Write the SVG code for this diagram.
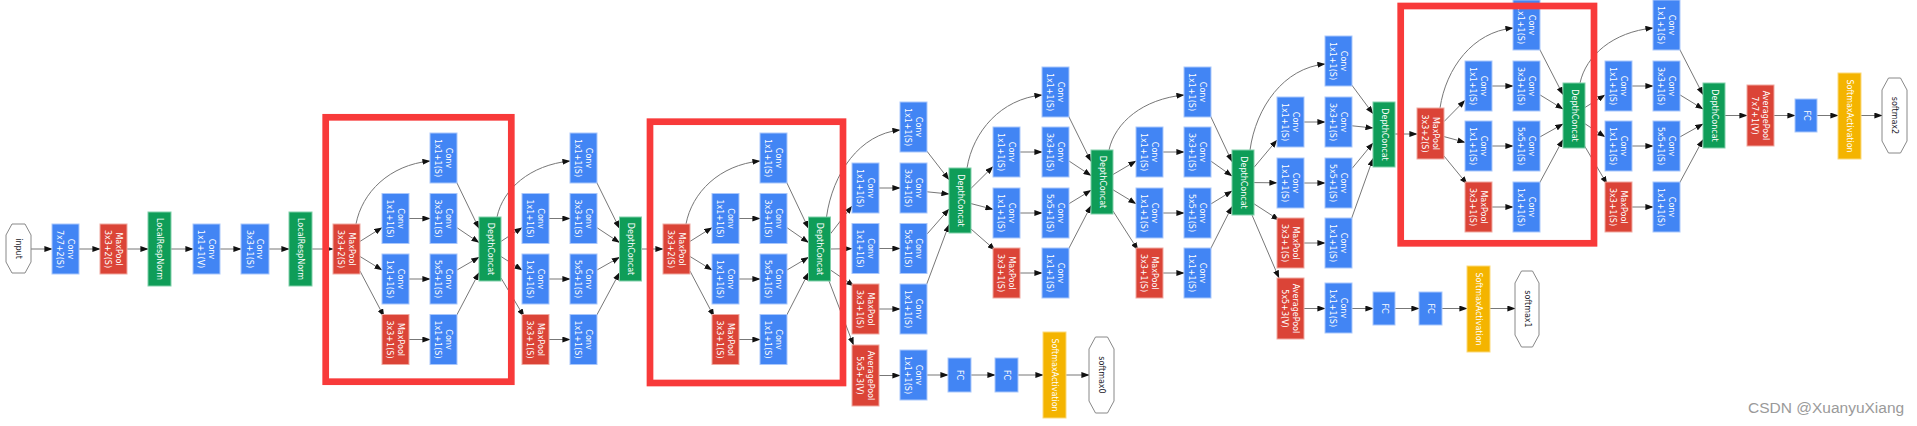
<svg xmlns="http://www.w3.org/2000/svg" width="1917" height="426" viewBox="0 0 1917 426">
<style>
rect{stroke-width:1}
.b{fill:#4285f4;stroke:#a9c7fb}
.r{fill:#db4437;stroke:#f0a9a1}
.g{fill:#0f9d58;stroke:#80cfa9}
.y{fill:#f4b400;stroke:#fbd97a}
.o{fill:#fff;stroke:#888;stroke-width:1}
.t{font-family:"DejaVu Sans",sans-serif;font-size:8px;fill:#fff;text-anchor:middle;dominant-baseline:central}
.d{fill:#1a1a2a}
.e path{fill:none;stroke:#777;stroke-width:1;marker-end:url(#ah)}
.hl{fill:none;stroke:#f83a3a;stroke-width:6.7}
.wm{font-family:"Liberation Sans",Arial,sans-serif;font-size:15.5px;fill:#9a9a9a}
</style>
<defs>
<marker id="ah" markerWidth="8" markerHeight="6" refX="7.6" refY="3" orient="auto" markerUnits="userSpaceOnUse"><path d="M0,0 L8,3 L0,6 z" fill="#111"/></marker>
</defs>
<rect width="1917" height="426" fill="#fff" stroke="none"/>
<g id="connectors" class="e">
<path d="M31,249 L52,249"/><path d="M79,249 L100,249"/><path d="M127,249 L148,249"/><path d="M171,249 L193,249"/><path d="M219,249 L241,249"/><path d="M269,249 L289,249"/><path d="M312,249 L333,249"/>
<path d="M360,241.4 L382,227.6"/><path d="M360,256.5 L382,270"/><path d="M360,271 L384,316.5"/><path d="M356,224 C362,192.5 389.3,165 430,161"/>
<path d="M409,218.5 L430,218.5"/><path d="M409,279 L430,279"/><path d="M409,339.5 L430,339.5"/>
<path d="M456,181 L479,228.5"/><path d="M457,227.7 L479,242.6"/><path d="M457,270 L479,257.3"/><path d="M456,316.5 L479,272.7"/>
<path d="M501,241.4 L522,227.6"/><path d="M501,256.5 L522,270"/><path d="M501,278 L524,316.5"/><path d="M497,217 C503,189 529.9,165 570,161"/>
<path d="M549,218.5 L570,218.5"/><path d="M549,279 L570,279"/><path d="M549,339.5 L570,339.5"/>
<path d="M596,181 L619.5,228.5"/><path d="M597,227.7 L619.5,242.6"/><path d="M597,270 L619.5,257.3"/><path d="M596,316.5 L619.5,272.7"/>
<path d="M641.5,249 L663,249"/>
<path d="M690,241.4 L712,227.6"/><path d="M690,256.5 L712,270"/><path d="M690,271 L714,316.5"/><path d="M686,224 C692,192.5 719.3,165 760,161"/>
<path d="M739,218.5 L760,218.5"/><path d="M739,279 L760,279"/><path d="M739,339.5 L760,339.5"/>
<path d="M786,181 L808.5,228.5"/><path d="M787,227.7 L808.5,242.6"/><path d="M787,270 L808.5,257.3"/><path d="M786,316.5 L808.5,272.7"/>
<path d="M830.5,233.8 L852,206"/><path d="M830.5,249 L852,248.7"/><path d="M830.5,270 L854,286"/><path d="M826.5,217 C832.5,173.5 859.6,134 900,130"/>
<path d="M879,188 L900,188"/><path d="M879,248.5 L900,248.5"/><path d="M879,309 L900,309"/>
<path d="M926,150 L949,179.7"/><path d="M927,191.8 L949,194"/><path d="M927,234.1 L949,209"/><path d="M926,286 L949,224.5"/>
<path d="M829,281 L853.5,345"/>
<path d="M879,375.5 L900,375.5"/><path d="M927,375 L948,375"/><path d="M971,375 L995,375"/><path d="M1018,375 L1043,375"/><path d="M1066,375 L1089,375"/>
<path d="M971,188.4 L993,166.6"/><path d="M971,203.6 L993,209.3"/><path d="M971,229 L995,250"/><path d="M967,168 C973,131.5 1000.8,99 1042,95"/>
<path d="M1020,152 L1042,152"/><path d="M1020,213 L1042,213"/><path d="M1020,273 L1042,273"/>
<path d="M1068,115 L1091,161.5"/><path d="M1069,161 L1091,175.6"/><path d="M1069,203.7 L1091,190.3"/><path d="M1068,250 L1091,205.7"/>
<path d="M1113,174.5 L1136,161"/><path d="M1113,189.8 L1136,203.7"/><path d="M1113,211 L1138,250"/><path d="M1109,150 C1115,122.5 1142.8,99 1184,95"/>
<path d="M1163,152 L1184,152"/><path d="M1163,213 L1184,213"/><path d="M1163,273 L1184,273"/>
<path d="M1210,115 L1232,161.7"/><path d="M1211,161.2 L1232,176"/><path d="M1211,203.9 L1232,191"/><path d="M1210,250 L1232,206.5"/>
<path d="M1252,215 L1279,278"/>
<path d="M1304,308.5 L1325,308.5"/><path d="M1352,308.5 L1373,308.5"/><path d="M1395,308.5 L1419,308.5"/><path d="M1442,308.5 L1467,308.5"/><path d="M1490,308.5 L1515,308.5"/>
<path d="M1254,167.4 L1277,140"/><path d="M1254,182.6 L1277,182.8"/><path d="M1254,203.8 L1279,220"/><path d="M1250,150 C1256,107 1283.8,68 1325,64"/>
<path d="M1304,122 L1325,122"/><path d="M1304,183 L1325,183"/><path d="M1304,243 L1325,243"/>
<path d="M1351,84 L1373,113.7"/><path d="M1352,125.8 L1373,128"/><path d="M1352,168.5 L1373,143"/><path d="M1351,220 L1373,158.5"/>
<path d="M1395,134 L1417,134"/>
<path d="M1444,121.6 L1465,100.3"/><path d="M1444,136.6 L1465,142.3"/><path d="M1444,156 L1467,184"/><path d="M1440,108 C1446,68 1472.9,32 1513,28"/>
<path d="M1492,86 L1513,86"/><path d="M1492,146 L1513,146"/><path d="M1492,207 L1513,207"/>
<path d="M1539,48 L1563,94.7"/><path d="M1540,94.9 L1563,109"/><path d="M1540,136.9 L1563,124"/><path d="M1539,184 L1563,139.5"/>
<path d="M1584,108.1 L1605,94.9"/><path d="M1584,123.1 L1605,136.9"/><path d="M1584,145 L1607,184"/><path d="M1580,83 C1586,55.5 1612.9,32 1653,28"/>
<path d="M1632,86 L1653,86"/><path d="M1632,146 L1653,146"/><path d="M1632,207 L1653,207"/>
<path d="M1679,48 L1703,94.7"/><path d="M1680,94.9 L1703,109"/><path d="M1680,136.9 L1703,124"/><path d="M1679,184 L1703,139.5"/>
<path d="M1725,115.5 L1747,115.5"/><path d="M1774,115.5 L1795,115.5"/><path d="M1817,115.5 L1838,115.5"/><path d="M1861,115.5 L1882,115.5"/>
</g>

<g id="input"><polygon class="o" points="12,224 25,224 31,235 31,262 25,273 12,273 6,262 6,235"/><text class="t d" transform="translate(18.5 248.5) rotate(90)">input</text></g>
<g id="conv1"><rect class="b" x="52" y="224" width="27" height="50"/><text class="t" transform="translate(65.5 249) rotate(90)"><tspan x="0" y="-5.3">Conv</tspan><tspan x="0" y="5.3">7x7+2(S)</tspan></text></g>
<g id="pool1"><rect class="r" x="100" y="224" width="27" height="50"/><text class="t" transform="translate(113.5 249) rotate(90)"><tspan x="0" y="-5.3">MaxPool</tspan><tspan x="0" y="5.3">3x3+2(S)</tspan></text></g>
<g id="lrn1"><rect class="g" x="148" y="212" width="23" height="74"/><text class="t" transform="translate(159.5 249) rotate(90)">LocalRespNorm</text></g>
<g id="conv2"><rect class="b" x="193" y="224" width="27" height="50"/><text class="t" transform="translate(206.5 249) rotate(90)"><tspan x="0" y="-5.3">Conv</tspan><tspan x="0" y="5.3">1x1+1(V)</tspan></text></g>
<g id="conv3"><rect class="b" x="241" y="224" width="28" height="50"/><text class="t" transform="translate(255 249) rotate(90)"><tspan x="0" y="-5.3">Conv</tspan><tspan x="0" y="5.3">3x3+1(S)</tspan></text></g>
<g id="lrn2"><rect class="g" x="289" y="212" width="23" height="74"/><text class="t" transform="translate(300.5 249) rotate(90)">LocalRespNorm</text></g>
<g id="pool2"><rect class="r" x="333" y="224" width="27" height="50"/><text class="t" transform="translate(346.5 249) rotate(90)"><tspan x="0" y="-5.3">MaxPool</tspan><tspan x="0" y="5.3">3x3+2(S)</tspan></text></g>

<g id="i3a_a1"><rect class="b" x="382" y="193.5" width="27" height="50"/><text class="t" transform="translate(395.5 218.5) rotate(90)"><tspan x="0" y="-5.3">Conv</tspan><tspan x="0" y="5.3">1x1+1(S)</tspan></text></g>
<g id="i3a_a2"><rect class="b" x="382" y="254" width="27" height="50"/><text class="t" transform="translate(395.5 279) rotate(90)"><tspan x="0" y="-5.3">Conv</tspan><tspan x="0" y="5.3">1x1+1(S)</tspan></text></g>
<g id="i3a_a3"><rect class="r" x="382" y="314.5" width="27" height="50"/><text class="t" transform="translate(395.5 339.5) rotate(90)"><tspan x="0" y="-5.3">MaxPool</tspan><tspan x="0" y="5.3">3x3+1(S)</tspan></text></g>
<g id="i3a_b0"><rect class="b" x="430" y="133" width="27" height="50"/><text class="t" transform="translate(443.5 158) rotate(90)"><tspan x="0" y="-5.3">Conv</tspan><tspan x="0" y="5.3">1x1+1(S)</tspan></text></g>
<g id="i3a_b1"><rect class="b" x="430" y="193.5" width="27" height="50"/><text class="t" transform="translate(443.5 218.5) rotate(90)"><tspan x="0" y="-5.3">Conv</tspan><tspan x="0" y="5.3">3x3+1(S)</tspan></text></g>
<g id="i3a_b2"><rect class="b" x="430" y="254" width="27" height="50"/><text class="t" transform="translate(443.5 279) rotate(90)"><tspan x="0" y="-5.3">Conv</tspan><tspan x="0" y="5.3">5x5+1(S)</tspan></text></g>
<g id="i3a_b3"><rect class="b" x="430" y="314.5" width="27" height="50"/><text class="t" transform="translate(443.5 339.5) rotate(90)"><tspan x="0" y="-5.3">Conv</tspan><tspan x="0" y="5.3">1x1+1(S)</tspan></text></g>
<g id="i3a_dc"><rect class="g" x="479" y="217" width="22" height="64"/><text class="t" transform="translate(490 249) rotate(90)">DepthConcat</text></g>

<g id="i3b_a1"><rect class="b" x="522" y="193.5" width="27" height="50"/><text class="t" transform="translate(535.5 218.5) rotate(90)"><tspan x="0" y="-5.3">Conv</tspan><tspan x="0" y="5.3">1x1+1(S)</tspan></text></g>
<g id="i3b_a2"><rect class="b" x="522" y="254" width="27" height="50"/><text class="t" transform="translate(535.5 279) rotate(90)"><tspan x="0" y="-5.3">Conv</tspan><tspan x="0" y="5.3">1x1+1(S)</tspan></text></g>
<g id="i3b_a3"><rect class="r" x="522" y="314.5" width="27" height="50"/><text class="t" transform="translate(535.5 339.5) rotate(90)"><tspan x="0" y="-5.3">MaxPool</tspan><tspan x="0" y="5.3">3x3+1(S)</tspan></text></g>
<g id="i3b_b0"><rect class="b" x="570" y="133" width="27" height="50"/><text class="t" transform="translate(583.5 158) rotate(90)"><tspan x="0" y="-5.3">Conv</tspan><tspan x="0" y="5.3">1x1+1(S)</tspan></text></g>
<g id="i3b_b1"><rect class="b" x="570" y="193.5" width="27" height="50"/><text class="t" transform="translate(583.5 218.5) rotate(90)"><tspan x="0" y="-5.3">Conv</tspan><tspan x="0" y="5.3">3x3+1(S)</tspan></text></g>
<g id="i3b_b2"><rect class="b" x="570" y="254" width="27" height="50"/><text class="t" transform="translate(583.5 279) rotate(90)"><tspan x="0" y="-5.3">Conv</tspan><tspan x="0" y="5.3">5x5+1(S)</tspan></text></g>
<g id="i3b_b3"><rect class="b" x="570" y="314.5" width="27" height="50"/><text class="t" transform="translate(583.5 339.5) rotate(90)"><tspan x="0" y="-5.3">Conv</tspan><tspan x="0" y="5.3">1x1+1(S)</tspan></text></g>
<g id="i3b_dc"><rect class="g" x="619.5" y="217" width="22" height="64"/><text class="t" transform="translate(630.5 249) rotate(90)">DepthConcat</text></g>
<g id="pool3"><rect class="r" x="663" y="224" width="27" height="50"/><text class="t" transform="translate(676.5 249) rotate(90)"><tspan x="0" y="-5.3">MaxPool</tspan><tspan x="0" y="5.3">3x3+2(S)</tspan></text></g>

<g id="i4a_a1"><rect class="b" x="712" y="193.5" width="27" height="50"/><text class="t" transform="translate(725.5 218.5) rotate(90)"><tspan x="0" y="-5.3">Conv</tspan><tspan x="0" y="5.3">1x1+1(S)</tspan></text></g>
<g id="i4a_a2"><rect class="b" x="712" y="254" width="27" height="50"/><text class="t" transform="translate(725.5 279) rotate(90)"><tspan x="0" y="-5.3">Conv</tspan><tspan x="0" y="5.3">1x1+1(S)</tspan></text></g>
<g id="i4a_a3"><rect class="r" x="712" y="314.5" width="27" height="50"/><text class="t" transform="translate(725.5 339.5) rotate(90)"><tspan x="0" y="-5.3">MaxPool</tspan><tspan x="0" y="5.3">3x3+1(S)</tspan></text></g>
<g id="i4a_b0"><rect class="b" x="760" y="133" width="27" height="50"/><text class="t" transform="translate(773.5 158) rotate(90)"><tspan x="0" y="-5.3">Conv</tspan><tspan x="0" y="5.3">1x1+1(S)</tspan></text></g>
<g id="i4a_b1"><rect class="b" x="760" y="193.5" width="27" height="50"/><text class="t" transform="translate(773.5 218.5) rotate(90)"><tspan x="0" y="-5.3">Conv</tspan><tspan x="0" y="5.3">3x3+1(S)</tspan></text></g>
<g id="i4a_b2"><rect class="b" x="760" y="254" width="27" height="50"/><text class="t" transform="translate(773.5 279) rotate(90)"><tspan x="0" y="-5.3">Conv</tspan><tspan x="0" y="5.3">5x5+1(S)</tspan></text></g>
<g id="i4a_b3"><rect class="b" x="760" y="314.5" width="27" height="50"/><text class="t" transform="translate(773.5 339.5) rotate(90)"><tspan x="0" y="-5.3">Conv</tspan><tspan x="0" y="5.3">1x1+1(S)</tspan></text></g>
<g id="i4a_dc"><rect class="g" x="808.5" y="217" width="22" height="64"/><text class="t" transform="translate(819.5 249) rotate(90)">DepthConcat</text></g>

<g id="i4b_a1"><rect class="b" x="852" y="163" width="27" height="50"/><text class="t" transform="translate(865.5 188) rotate(90)"><tspan x="0" y="-5.3">Conv</tspan><tspan x="0" y="5.3">1x1+1(S)</tspan></text></g>
<g id="i4b_a2"><rect class="b" x="852" y="223.5" width="27" height="50"/><text class="t" transform="translate(865.5 248.5) rotate(90)"><tspan x="0" y="-5.3">Conv</tspan><tspan x="0" y="5.3">1x1+1(S)</tspan></text></g>
<g id="i4b_a3"><rect class="r" x="852" y="284" width="27" height="50"/><text class="t" transform="translate(865.5 309) rotate(90)"><tspan x="0" y="-5.3">MaxPool</tspan><tspan x="0" y="5.3">3x3+1(S)</tspan></text></g>
<g id="i4b_b0"><rect class="b" x="900" y="102" width="27" height="50"/><text class="t" transform="translate(913.5 127) rotate(90)"><tspan x="0" y="-5.3">Conv</tspan><tspan x="0" y="5.3">1x1+1(S)</tspan></text></g>
<g id="i4b_b1"><rect class="b" x="900" y="163" width="27" height="50"/><text class="t" transform="translate(913.5 188) rotate(90)"><tspan x="0" y="-5.3">Conv</tspan><tspan x="0" y="5.3">3x3+1(S)</tspan></text></g>
<g id="i4b_b2"><rect class="b" x="900" y="223.5" width="27" height="50"/><text class="t" transform="translate(913.5 248.5) rotate(90)"><tspan x="0" y="-5.3">Conv</tspan><tspan x="0" y="5.3">5x5+1(S)</tspan></text></g>
<g id="i4b_b3"><rect class="b" x="900" y="284" width="27" height="50"/><text class="t" transform="translate(913.5 309) rotate(90)"><tspan x="0" y="-5.3">Conv</tspan><tspan x="0" y="5.3">1x1+1(S)</tspan></text></g>
<g id="i4b_dc"><rect class="g" x="949" y="168" width="22" height="65"/><text class="t" transform="translate(960 200.5) rotate(90)">DepthConcat</text></g>

<g id="aux0_pool"><rect class="r" x="852" y="345" width="27" height="61"/><text class="t" transform="translate(865.5 375.5) rotate(90)"><tspan x="0" y="-5.3">AveragePool</tspan><tspan x="0" y="5.3">5x5+3(V)</tspan></text></g>
<g id="aux0_conv"><rect class="b" x="900" y="350" width="27" height="50"/><text class="t" transform="translate(913.5 375) rotate(90)"><tspan x="0" y="-5.3">Conv</tspan><tspan x="0" y="5.3">1x1+1(S)</tspan></text></g>
<g id="aux0_fc1"><rect class="b" x="948" y="358" width="23" height="34"/><text class="t" transform="translate(959.5 375) rotate(90)">FC</text></g>
<g id="aux0_fc2"><rect class="b" x="995" y="358" width="23" height="34"/><text class="t" transform="translate(1006.5 375) rotate(90)">FC</text></g>
<g id="aux0_sm"><rect class="y" x="1043" y="332" width="23" height="86"/><text class="t" transform="translate(1054.5 375) rotate(90)">SoftmaxActivation</text></g>
<g id="softmax0"><polygon class="o" points="1095.5,337 1107.5,337 1114,349 1114,401 1107.5,413 1095.5,413 1089,401 1089,349"/><text class="t d" transform="translate(1101.5 375) rotate(90)">softmax0</text></g>

<g id="i4c_a1"><rect class="b" x="993" y="127" width="27" height="50"/><text class="t" transform="translate(1006.5 152) rotate(90)"><tspan x="0" y="-5.3">Conv</tspan><tspan x="0" y="5.3">1x1+1(S)</tspan></text></g>
<g id="i4c_a2"><rect class="b" x="993" y="188" width="27" height="50"/><text class="t" transform="translate(1006.5 213) rotate(90)"><tspan x="0" y="-5.3">Conv</tspan><tspan x="0" y="5.3">1x1+1(S)</tspan></text></g>
<g id="i4c_a3"><rect class="r" x="993" y="248" width="27" height="50"/><text class="t" transform="translate(1006.5 273) rotate(90)"><tspan x="0" y="-5.3">MaxPool</tspan><tspan x="0" y="5.3">3x3+1(S)</tspan></text></g>
<g id="i4c_b0"><rect class="b" x="1042" y="67" width="27" height="50"/><text class="t" transform="translate(1055.5 92) rotate(90)"><tspan x="0" y="-5.3">Conv</tspan><tspan x="0" y="5.3">1x1+1(S)</tspan></text></g>
<g id="i4c_b1"><rect class="b" x="1042" y="127" width="27" height="50"/><text class="t" transform="translate(1055.5 152) rotate(90)"><tspan x="0" y="-5.3">Conv</tspan><tspan x="0" y="5.3">3x3+1(S)</tspan></text></g>
<g id="i4c_b2"><rect class="b" x="1042" y="188" width="27" height="50"/><text class="t" transform="translate(1055.5 213) rotate(90)"><tspan x="0" y="-5.3">Conv</tspan><tspan x="0" y="5.3">5x5+1(S)</tspan></text></g>
<g id="i4c_b3"><rect class="b" x="1042" y="248" width="27" height="50"/><text class="t" transform="translate(1055.5 273) rotate(90)"><tspan x="0" y="-5.3">Conv</tspan><tspan x="0" y="5.3">1x1+1(S)</tspan></text></g>
<g id="i4c_dc"><rect class="g" x="1091" y="150" width="22" height="64"/><text class="t" transform="translate(1102 182) rotate(90)">DepthConcat</text></g>

<g id="i4d_a1"><rect class="b" x="1136" y="127" width="27" height="50"/><text class="t" transform="translate(1149.5 152) rotate(90)"><tspan x="0" y="-5.3">Conv</tspan><tspan x="0" y="5.3">1x1+1(S)</tspan></text></g>
<g id="i4d_a2"><rect class="b" x="1136" y="188" width="27" height="50"/><text class="t" transform="translate(1149.5 213) rotate(90)"><tspan x="0" y="-5.3">Conv</tspan><tspan x="0" y="5.3">1x1+1(S)</tspan></text></g>
<g id="i4d_a3"><rect class="r" x="1136" y="248" width="27" height="50"/><text class="t" transform="translate(1149.5 273) rotate(90)"><tspan x="0" y="-5.3">MaxPool</tspan><tspan x="0" y="5.3">3x3+1(S)</tspan></text></g>
<g id="i4d_b0"><rect class="b" x="1184" y="67" width="27" height="50"/><text class="t" transform="translate(1197.5 92) rotate(90)"><tspan x="0" y="-5.3">Conv</tspan><tspan x="0" y="5.3">1x1+1(S)</tspan></text></g>
<g id="i4d_b1"><rect class="b" x="1184" y="127" width="27" height="50"/><text class="t" transform="translate(1197.5 152) rotate(90)"><tspan x="0" y="-5.3">Conv</tspan><tspan x="0" y="5.3">3x3+1(S)</tspan></text></g>
<g id="i4d_b2"><rect class="b" x="1184" y="188" width="27" height="50"/><text class="t" transform="translate(1197.5 213) rotate(90)"><tspan x="0" y="-5.3">Conv</tspan><tspan x="0" y="5.3">5x5+1(S)</tspan></text></g>
<g id="i4d_b3"><rect class="b" x="1184" y="248" width="27" height="50"/><text class="t" transform="translate(1197.5 273) rotate(90)"><tspan x="0" y="-5.3">Conv</tspan><tspan x="0" y="5.3">1x1+1(S)</tspan></text></g>
<g id="i4d_dc"><rect class="g" x="1232" y="150" width="22" height="65"/><text class="t" transform="translate(1243 182.5) rotate(90)">DepthConcat</text></g>

<g id="aux1_pool"><rect class="r" x="1277" y="278" width="27" height="61"/><text class="t" transform="translate(1290.5 308.5) rotate(90)"><tspan x="0" y="-5.3">AveragePool</tspan><tspan x="0" y="5.3">5x5+3(V)</tspan></text></g>
<g id="aux1_conv"><rect class="b" x="1325" y="283" width="27" height="50"/><text class="t" transform="translate(1338.5 308) rotate(90)"><tspan x="0" y="-5.3">Conv</tspan><tspan x="0" y="5.3">1x1+1(S)</tspan></text></g>
<g id="aux1_fc1"><rect class="b" x="1373" y="292" width="22" height="33"/><text class="t" transform="translate(1384 308.5) rotate(90)">FC</text></g>
<g id="aux1_fc2"><rect class="b" x="1419" y="292" width="23" height="33"/><text class="t" transform="translate(1430.5 308.5) rotate(90)">FC</text></g>
<g id="aux1_sm"><rect class="y" x="1467" y="266" width="23" height="86"/><text class="t" transform="translate(1478.5 309) rotate(90)">SoftmaxActivation</text></g>
<g id="softmax1"><polygon class="o" points="1521.5,271 1532.5,271 1539,283 1539,335 1532.5,347 1521.5,347 1515,335 1515,283"/><text class="t d" transform="translate(1527 309) rotate(90)">softmax1</text></g>

<g id="i4e_a1"><rect class="b" x="1277" y="97" width="27" height="50"/><text class="t" transform="translate(1290.5 122) rotate(90)"><tspan x="0" y="-5.3">Conv</tspan><tspan x="0" y="5.3">1x1+1(S)</tspan></text></g>
<g id="i4e_a2"><rect class="b" x="1277" y="158" width="27" height="50"/><text class="t" transform="translate(1290.5 183) rotate(90)"><tspan x="0" y="-5.3">Conv</tspan><tspan x="0" y="5.3">1x1+1(S)</tspan></text></g>
<g id="i4e_a3"><rect class="r" x="1277" y="218" width="27" height="50"/><text class="t" transform="translate(1290.5 243) rotate(90)"><tspan x="0" y="-5.3">MaxPool</tspan><tspan x="0" y="5.3">3x3+1(S)</tspan></text></g>
<g id="i4e_b0"><rect class="b" x="1325" y="36" width="27" height="50"/><text class="t" transform="translate(1338.5 61) rotate(90)"><tspan x="0" y="-5.3">Conv</tspan><tspan x="0" y="5.3">1x1+1(S)</tspan></text></g>
<g id="i4e_b1"><rect class="b" x="1325" y="97" width="27" height="50"/><text class="t" transform="translate(1338.5 122) rotate(90)"><tspan x="0" y="-5.3">Conv</tspan><tspan x="0" y="5.3">3x3+1(S)</tspan></text></g>
<g id="i4e_b2"><rect class="b" x="1325" y="158" width="27" height="50"/><text class="t" transform="translate(1338.5 183) rotate(90)"><tspan x="0" y="-5.3">Conv</tspan><tspan x="0" y="5.3">5x5+1(S)</tspan></text></g>
<g id="i4e_b3"><rect class="b" x="1325" y="218" width="27" height="50"/><text class="t" transform="translate(1338.5 243) rotate(90)"><tspan x="0" y="-5.3">Conv</tspan><tspan x="0" y="5.3">1x1+1(S)</tspan></text></g>
<g id="i4e_dc"><rect class="g" x="1373" y="102" width="22" height="65"/><text class="t" transform="translate(1384 134.5) rotate(90)">DepthConcat</text></g>
<g id="pool4"><rect class="r" x="1417" y="108" width="27" height="51"/><text class="t" transform="translate(1430.5 133.5) rotate(90)"><tspan x="0" y="-5.3">MaxPool</tspan><tspan x="0" y="5.3">3x3+2(S)</tspan></text></g>

<g id="i5a_a1"><rect class="b" x="1465" y="61" width="27" height="50"/><text class="t" transform="translate(1478.5 86) rotate(90)"><tspan x="0" y="-5.3">Conv</tspan><tspan x="0" y="5.3">1x1+1(S)</tspan></text></g>
<g id="i5a_a2"><rect class="b" x="1465" y="121" width="27" height="50"/><text class="t" transform="translate(1478.5 146) rotate(90)"><tspan x="0" y="-5.3">Conv</tspan><tspan x="0" y="5.3">1x1+1(S)</tspan></text></g>
<g id="i5a_a3"><rect class="r" x="1465" y="182" width="27" height="50"/><text class="t" transform="translate(1478.5 207) rotate(90)"><tspan x="0" y="-5.3">MaxPool</tspan><tspan x="0" y="5.3">3x3+1(S)</tspan></text></g>
<g id="i5a_b0"><rect class="b" x="1513" y="0" width="27" height="50"/><text class="t" transform="translate(1526.5 25) rotate(90)"><tspan x="0" y="-5.3">Conv</tspan><tspan x="0" y="5.3">1x1+1(S)</tspan></text></g>
<g id="i5a_b1"><rect class="b" x="1513" y="61" width="27" height="50"/><text class="t" transform="translate(1526.5 86) rotate(90)"><tspan x="0" y="-5.3">Conv</tspan><tspan x="0" y="5.3">3x3+1(S)</tspan></text></g>
<g id="i5a_b2"><rect class="b" x="1513" y="121" width="27" height="50"/><text class="t" transform="translate(1526.5 146) rotate(90)"><tspan x="0" y="-5.3">Conv</tspan><tspan x="0" y="5.3">5x5+1(S)</tspan></text></g>
<g id="i5a_b3"><rect class="b" x="1513" y="182" width="27" height="50"/><text class="t" transform="translate(1526.5 207) rotate(90)"><tspan x="0" y="-5.3">Conv</tspan><tspan x="0" y="5.3">1x1+1(S)</tspan></text></g>
<g id="i5a_dc"><rect class="g" x="1563" y="83" width="22" height="65"/><text class="t" transform="translate(1574 115.5) rotate(90)">DepthConcat</text></g>

<g id="i5b_a1"><rect class="b" x="1605" y="61" width="27" height="50"/><text class="t" transform="translate(1618.5 86) rotate(90)"><tspan x="0" y="-5.3">Conv</tspan><tspan x="0" y="5.3">1x1+1(S)</tspan></text></g>
<g id="i5b_a2"><rect class="b" x="1605" y="121" width="27" height="50"/><text class="t" transform="translate(1618.5 146) rotate(90)"><tspan x="0" y="-5.3">Conv</tspan><tspan x="0" y="5.3">1x1+1(S)</tspan></text></g>
<g id="i5b_a3"><rect class="r" x="1605" y="182" width="27" height="50"/><text class="t" transform="translate(1618.5 207) rotate(90)"><tspan x="0" y="-5.3">MaxPool</tspan><tspan x="0" y="5.3">3x3+1(S)</tspan></text></g>
<g id="i5b_b0"><rect class="b" x="1653" y="0" width="27" height="50"/><text class="t" transform="translate(1666.5 25) rotate(90)"><tspan x="0" y="-5.3">Conv</tspan><tspan x="0" y="5.3">1x1+1(S)</tspan></text></g>
<g id="i5b_b1"><rect class="b" x="1653" y="61" width="27" height="50"/><text class="t" transform="translate(1666.5 86) rotate(90)"><tspan x="0" y="-5.3">Conv</tspan><tspan x="0" y="5.3">3x3+1(S)</tspan></text></g>
<g id="i5b_b2"><rect class="b" x="1653" y="121" width="27" height="50"/><text class="t" transform="translate(1666.5 146) rotate(90)"><tspan x="0" y="-5.3">Conv</tspan><tspan x="0" y="5.3">5x5+1(S)</tspan></text></g>
<g id="i5b_b3"><rect class="b" x="1653" y="182" width="27" height="50"/><text class="t" transform="translate(1666.5 207) rotate(90)"><tspan x="0" y="-5.3">Conv</tspan><tspan x="0" y="5.3">1x1+1(S)</tspan></text></g>
<g id="i5b_dc"><rect class="g" x="1703" y="83" width="22" height="65"/><text class="t" transform="translate(1714 115.5) rotate(90)">DepthConcat</text></g>

<g id="pool5"><rect class="r" x="1747" y="85" width="27" height="61"/><text class="t" transform="translate(1760.5 115.5) rotate(90)"><tspan x="0" y="-5.3">AveragePool</tspan><tspan x="0" y="5.3">7x7+1(V)</tspan></text></g>
<g id="fc"><rect class="b" x="1795" y="99" width="22" height="33"/><text class="t" transform="translate(1806 115.5) rotate(90)">FC</text></g>
<g id="sm2"><rect class="y" x="1838" y="73" width="23" height="86"/><text class="t" transform="translate(1849.5 116) rotate(90)">SoftmaxActivation</text></g>
<g id="softmax2"><polygon class="o" points="1888.5,78 1900.5,78 1907,90 1907,141 1900.5,153 1888.5,153 1882,141 1882,90"/><text class="t d" transform="translate(1894.5 115.5) rotate(90)">softmax2</text></g>

<g id="highlights">
<rect class="hl" x="325.7" y="117.3" width="185.6" height="264.4"/>
<rect class="hl" x="650" y="121.7" width="193" height="261.3"/>
<rect class="hl" x="1400.7" y="6" width="193.3" height="237.3"/>
</g>
<text id="watermark" class="wm" x="1748" y="413">CSDN @XuanyuXiang</text>
</svg>
